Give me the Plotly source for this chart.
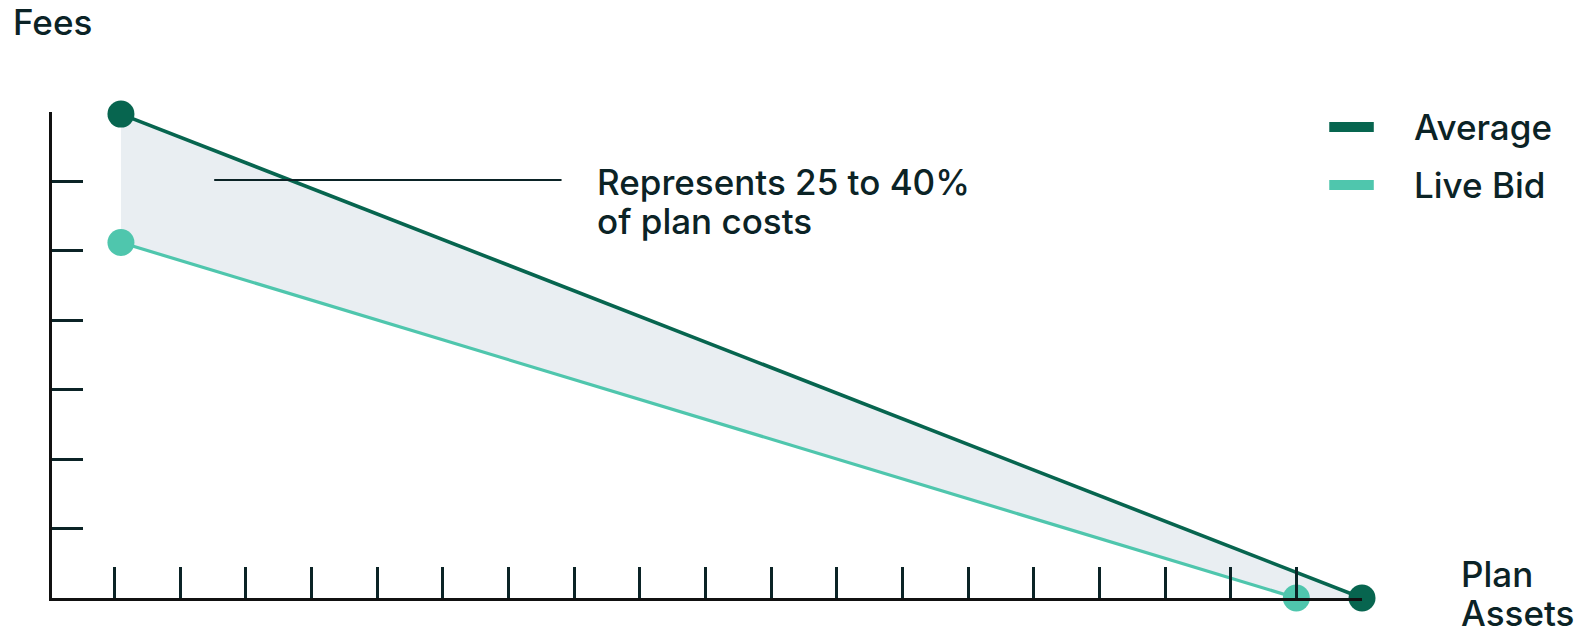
import plotly.graph_objects as go

# Data
series_names = ["Average", "Live Bid"]
avg_x = [1.1, 20]
avg_y = [6.97, 0]
bid_x = [1.1, 19]
bid_y = [5.12, 0]
x_ticks = list(range(1, 21))
y_ticks = list(range(1, 8))
annotation_lines = ["Represents 25 to 40%", "of plan costs"]
y_title = "Fees"
x_title_lines = ["Plan", "Assets"]

DARK = "#07654F"
LIGHT = "#4FC6AD"
FILL = "#E9EEF2"
INK = "#0B2326"
FONT = "Inter"
TXT = dict(family=FONT, size=35, color=INK, weight=500)

fig = go.Figure()

# shaded band between the two lines
fig.add_trace(go.Scatter(
    x=[avg_x[0], avg_x[1], bid_x[1], bid_x[0], avg_x[0]],
    y=[avg_y[0], avg_y[1], bid_y[1], bid_y[0], avg_y[0]],
    fill="toself", fillcolor=FILL, line=dict(width=0), mode="lines",
    hoverinfo="skip", showlegend=False,
))

fig.add_trace(go.Scatter(
    x=bid_x, y=bid_y, mode="lines+markers", name=series_names[1],
    line=dict(color=LIGHT, width=3.2), marker=dict(size=27, color=LIGHT),
    cliponaxis=False, showlegend=False,
))
fig.add_trace(go.Scatter(
    x=avg_x, y=avg_y, mode="lines+markers", name=series_names[0],
    line=dict(color=DARK, width=3.6), marker=dict(size=27, color=DARK),
    cliponaxis=False, showlegend=False,
))

# annotation leader line
fig.add_shape(type="line", xref="x", yref="y", x0=2.52, x1=7.81, y0=6.02, y1=6.02,
              line=dict(color=INK, width=2))
for txt, yy in zip(annotation_lines, [5.99, 5.43]):
    fig.add_annotation(x=8.32, y=yy, xref="x", yref="y", text=txt,
                       showarrow=False, xanchor="left", yanchor="middle", align="left",
                       font=TXT)

# axis titles
fig.add_annotation(x=-0.031, y=1.185, xref="paper", yref="paper", text=y_title,
                   showarrow=False, xanchor="left", yanchor="middle", font=TXT)
for txt, yy in zip(x_title_lines, [0.049, -0.031]):
    fig.add_annotation(x=1.0737, y=yy, xref="paper", yref="paper", text=txt,
                       showarrow=False, xanchor="left", yanchor="middle", align="left",
                       font=TXT)

# manual legend
legend_y = [0.969, 0.850]
for name, col, ly in zip(series_names, [DARK, LIGHT], legend_y):
    fig.add_shape(type="line", xref="paper", yref="paper", x0=0.975, x1=1.009,
                  y0=ly, y1=ly, line=dict(color=col, width=10))
    fig.add_annotation(x=1.038, y=ly, xref="paper", yref="paper", text=name,
                       showarrow=False, xanchor="left", yanchor="middle", font=TXT)

fig.update_xaxes(range=[0.05, 20], tickvals=x_ticks, ticks="inside", ticklen=31,
                 tickwidth=2.5, tickcolor=INK, showticklabels=False, showgrid=False,
                 zeroline=False, showline=True, linecolor="#111111", linewidth=3)
fig.update_yaxes(range=[0, 7], tickvals=y_ticks, ticks="inside", ticklen=31,
                 tickwidth=2.5, tickcolor=INK, showticklabels=False, showgrid=False,
                 zeroline=False, showline=True, linecolor="#111111", linewidth=3)

# page body adds an 8px offset; margins compensate
fig.update_layout(
    width=1587, height=628,
    margin=dict(l=44, r=233, t=104, b=38),
    plot_bgcolor="white", paper_bgcolor="white",
    showlegend=False,
    font=dict(family=FONT, color=INK),
)

fig.write_html("out.html")
